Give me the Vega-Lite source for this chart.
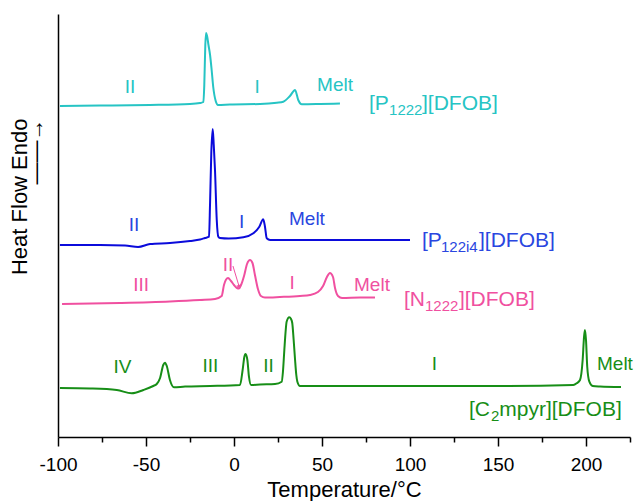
{
  "$schema": "https://vega.github.io/schema/vega-lite/v6.json",
  "width": 572,
  "height": 423,
  "autosize": {"type": "none"},
  "padding": {"left": 58, "top": 14, "right": 8, "bottom": 64},
  "background": "white",
  "config": {"view": {"stroke": null}, "font": "Liberation Sans"},
  "datasets": {
    "curves": [
      {"s": "P1222", "T": -98.9, "hf": 331}, {"s": "P1222", "T": -76.1, "hf": 331.5}, {"s": "P1222", "T": -47.7, "hf": 332}, {"s": "P1222", "T": -25.0, "hf": 333}, {"s": "P1222", "T": -19.3, "hf": 334}, {"s": "P1222", "T": -17.4, "hf": 335}, {"s": "P1222", "T": -16.9, "hf": 351}, {"s": "P1222", "T": -16.3, "hf": 392}, {"s": "P1222", "T": -15.9, "hf": 404}, {"s": "P1222", "T": -15.3, "hf": 401}, {"s": "P1222", "T": -14.5, "hf": 392}, {"s": "P1222", "T": -13.6, "hf": 382}, {"s": "P1222", "T": -12.7, "hf": 367}, {"s": "P1222", "T": -11.8, "hf": 350}, {"s": "P1222", "T": -10.4, "hf": 336}, {"s": "P1222", "T": -9.1, "hf": 332}, {"s": "P1222", "T": -2.3, "hf": 332.5}, {"s": "P1222", "T": 14.8, "hf": 333}, {"s": "P1222", "T": 24.3, "hf": 334.3}, {"s": "P1222", "T": 28.0, "hf": 335.3}, {"s": "P1222", "T": 31.8, "hf": 341}, {"s": "P1222", "T": 34.7, "hf": 347}, {"s": "P1222", "T": 36.5, "hf": 337}, {"s": "P1222", "T": 38.5, "hf": 332.7}, {"s": "P1222", "T": 48.9, "hf": 333}, {"s": "P1222", "T": 60.2, "hf": 333.5},
      {"s": "P122i4", "T": -98.9, "hf": 192}, {"s": "P122i4", "T": -76.1, "hf": 192}, {"s": "P122i4", "T": -61.9, "hf": 191.5}, {"s": "P122i4", "T": -54.5, "hf": 190}, {"s": "P122i4", "T": -47.7, "hf": 193}, {"s": "P122i4", "T": -36.4, "hf": 194}, {"s": "P122i4", "T": -25.0, "hf": 196}, {"s": "P122i4", "T": -19.3, "hf": 197.5}, {"s": "P122i4", "T": -16.5, "hf": 199}, {"s": "P122i4", "T": -14.2, "hf": 200.3}, {"s": "P122i4", "T": -13.6, "hf": 234}, {"s": "P122i4", "T": -12.9, "hf": 284}, {"s": "P122i4", "T": -12.1, "hf": 308}, {"s": "P122i4", "T": -11.5, "hf": 292}, {"s": "P122i4", "T": -10.8, "hf": 267}, {"s": "P122i4", "T": -9.8, "hf": 217}, {"s": "P122i4", "T": -8.9, "hf": 200.3}, {"s": "P122i4", "T": -8.0, "hf": 199}, {"s": "P122i4", "T": -3.0, "hf": 198.5}, {"s": "P122i4", "T": 5.3, "hf": 199.7}, {"s": "P122i4", "T": 11.0, "hf": 203.7}, {"s": "P122i4", "T": 14.4, "hf": 210.3}, {"s": "P122i4", "T": 16.6, "hf": 217.7}, {"s": "P122i4", "T": 17.6, "hf": 210.3}, {"s": "P122i4", "T": 18.6, "hf": 198.7}, {"s": "P122i4", "T": 20.5, "hf": 197}, {"s": "P122i4", "T": 31.8, "hf": 197}, {"s": "P122i4", "T": 65.9, "hf": 197}, {"s": "P122i4", "T": 100, "hf": 197},
      {"s": "N1222", "T": -97.7, "hf": 133}, {"s": "N1222", "T": -64.8, "hf": 134}, {"s": "N1222", "T": -36.4, "hf": 135.5}, {"s": "N1222", "T": -19.3, "hf": 137}, {"s": "N1222", "T": -10.8, "hf": 138}, {"s": "N1222", "T": -7.0, "hf": 141}, {"s": "N1222", "T": -5.7, "hf": 152}, {"s": "N1222", "T": -4.5, "hf": 157.5}, {"s": "N1222", "T": -3.4, "hf": 159}, {"s": "N1222", "T": -1.7, "hf": 156}, {"s": "N1222", "T": 0, "hf": 152}, {"s": "N1222", "T": 1.7, "hf": 149}, {"s": "N1222", "T": 2.8, "hf": 148.5}, {"s": "N1222", "T": 4.0, "hf": 152}, {"s": "N1222", "T": 5.7, "hf": 161}, {"s": "N1222", "T": 7.4, "hf": 173}, {"s": "N1222", "T": 9.1, "hf": 177}, {"s": "N1222", "T": 10.5, "hf": 174}, {"s": "N1222", "T": 11.9, "hf": 162}, {"s": "N1222", "T": 13.6, "hf": 148}, {"s": "N1222", "T": 15.3, "hf": 141}, {"s": "N1222", "T": 17.6, "hf": 139.5}, {"s": "N1222", "T": 26.1, "hf": 140}, {"s": "N1222", "T": 37.5, "hf": 141}, {"s": "N1222", "T": 43.2, "hf": 142}, {"s": "N1222", "T": 47.7, "hf": 145}, {"s": "N1222", "T": 50.6, "hf": 151}, {"s": "N1222", "T": 52.8, "hf": 160}, {"s": "N1222", "T": 54.5, "hf": 164}, {"s": "N1222", "T": 56.25, "hf": 160}, {"s": "N1222", "T": 57.4, "hf": 149}, {"s": "N1222", "T": 59.1, "hf": 141}, {"s": "N1222", "T": 61.4, "hf": 139}, {"s": "N1222", "T": 71.6, "hf": 139.5}, {"s": "N1222", "T": 80.1, "hf": 139.5},
      {"s": "C2mpyr", "T": -98.9, "hf": 49}, {"s": "C2mpyr", "T": -81.8, "hf": 48.5}, {"s": "C2mpyr", "T": -66.6, "hf": 47}, {"s": "C2mpyr", "T": -58.1, "hf": 43.7}, {"s": "C2mpyr", "T": -51.5, "hf": 47}, {"s": "C2mpyr", "T": -45.9, "hf": 51}, {"s": "C2mpyr", "T": -43.9, "hf": 53}, {"s": "C2mpyr", "T": -42.0, "hf": 59}, {"s": "C2mpyr", "T": -40.2, "hf": 72}, {"s": "C2mpyr", "T": -39.2, "hf": 74.3}, {"s": "C2mpyr", "T": -38.2, "hf": 71}, {"s": "C2mpyr", "T": -36.4, "hf": 57}, {"s": "C2mpyr", "T": -34.1, "hf": 49.7}, {"s": "C2mpyr", "T": -27.8, "hf": 50.5}, {"s": "C2mpyr", "T": -13.6, "hf": 51}, {"s": "C2mpyr", "T": 3.4, "hf": 52}, {"s": "C2mpyr", "T": 4.9, "hf": 67}, {"s": "C2mpyr", "T": 5.9, "hf": 80.3}, {"s": "C2mpyr", "T": 6.6, "hf": 83}, {"s": "C2mpyr", "T": 7.6, "hf": 77}, {"s": "C2mpyr", "T": 8.5, "hf": 60.3}, {"s": "C2mpyr", "T": 9.7, "hf": 52}, {"s": "C2mpyr", "T": 14.8, "hf": 52.5}, {"s": "C2mpyr", "T": 23.3, "hf": 53}, {"s": "C2mpyr", "T": 27.1, "hf": 55.3}, {"s": "C2mpyr", "T": 27.8, "hf": 65}, {"s": "C2mpyr", "T": 28.6, "hf": 87}, {"s": "C2mpyr", "T": 29.3, "hf": 105}, {"s": "C2mpyr", "T": 29.9, "hf": 115.3}, {"s": "C2mpyr", "T": 31.4, "hf": 119.7}, {"s": "C2mpyr", "T": 32.4, "hf": 118}, {"s": "C2mpyr", "T": 33.1, "hf": 114}, {"s": "C2mpyr", "T": 33.9, "hf": 97}, {"s": "C2mpyr", "T": 34.7, "hf": 77}, {"s": "C2mpyr", "T": 35.4, "hf": 62}, {"s": "C2mpyr", "T": 36.0, "hf": 55.3}, {"s": "C2mpyr", "T": 37.5, "hf": 51}, {"s": "C2mpyr", "T": 48.9, "hf": 51}, {"s": "C2mpyr", "T": 94.3, "hf": 51}, {"s": "C2mpyr", "T": 151.1, "hf": 51}, {"s": "C2mpyr", "T": 192.8, "hf": 52}, {"s": "C2mpyr", "T": 194.7, "hf": 53.7}, {"s": "C2mpyr", "T": 196.6, "hf": 57}, {"s": "C2mpyr", "T": 198.1, "hf": 77}, {"s": "C2mpyr", "T": 198.9, "hf": 100.3}, {"s": "C2mpyr", "T": 199.4, "hf": 107}, {"s": "C2mpyr", "T": 200, "hf": 97}, {"s": "C2mpyr", "T": 200.7, "hf": 70.3}, {"s": "C2mpyr", "T": 201.9, "hf": 55.3}, {"s": "C2mpyr", "T": 203.8, "hf": 51}, {"s": "C2mpyr", "T": 208, "hf": 50.5}, {"s": "C2mpyr", "T": 219.9, "hf": 50}
    ],
    "arrow": [
      {"s": "N1222", "T": -0.6, "hf": 171, "end": 0},
      {"s": "N1222", "T": 3.0, "hf": 150, "end": 1}
    ],
    "labels": [
      {"s": "P1222", "text": "II", "kind": "phase", "T": -59.1, "hf": 344},
      {"s": "P1222", "text": "I", "kind": "phase", "T": 13.1, "hf": 344},
      {"s": "P1222", "text": "Melt", "kind": "phaseL", "T": 47.2, "hf": 346.3},
      {"s": "P1222", "text": "[P", "kind": "name", "T": 76.7, "hf": 327},
      {"s": "P1222", "text": "1222", "kind": "sub", "T": 88.1, "hf": 322},
      {"s": "P1222", "text": "][DFOB]", "kind": "name", "T": 106.8, "hf": 327},
      {"s": "P122i4 text", "text": "II", "kind": "phase", "T": -56.8, "hf": 206},
      {"s": "P122i4 text", "text": "I", "kind": "phase", "T": 4.4, "hf": 208.7},
      {"s": "P122i4 text", "text": "Melt", "kind": "phaseL", "T": 31.25, "hf": 212},
      {"s": "P122i4 text", "text": "[P", "kind": "name", "T": 106.8, "hf": 190},
      {"s": "P122i4 text", "text": "122i4", "kind": "sub", "T": 117.6, "hf": 185},
      {"s": "P122i4 text", "text": "][DFOB]", "kind": "name", "T": 139.2, "hf": 190},
      {"s": "N1222", "text": "III", "kind": "phase", "T": -52.8, "hf": 146},
      {"s": "N1222", "text": "II", "kind": "phase", "T": -3.4, "hf": 166},
      {"s": "N1222", "text": "I", "kind": "phase", "T": 33.0, "hf": 148},
      {"s": "N1222", "text": "Melt", "kind": "phaseL", "T": 68.2, "hf": 146},
      {"s": "N1222", "text": "[N", "kind": "name", "T": 96.6, "hf": 131},
      {"s": "N1222", "text": "1222", "kind": "sub", "T": 108.5, "hf": 126},
      {"s": "N1222", "text": "][DFOB]", "kind": "name", "T": 127.8, "hf": 131},
      {"s": "C2mpyr", "text": "IV", "kind": "phase", "T": -63.4, "hf": 64},
      {"s": "C2mpyr", "text": "III", "kind": "phase", "T": -13.4, "hf": 65},
      {"s": "C2mpyr", "text": "II", "kind": "phase", "T": 19.6, "hf": 65},
      {"s": "C2mpyr", "text": "I", "kind": "phase", "T": 113.8, "hf": 67},
      {"s": "C2mpyr", "text": "Melt", "kind": "phaseL", "T": 206.25, "hf": 67},
      {"s": "C2mpyr", "text": "[C", "kind": "name", "T": 133.5, "hf": 21},
      {"s": "C2mpyr", "text": "2", "kind": "sub", "T": 146.0, "hf": 16},
      {"s": "C2mpyr", "text": "mpyr][DFOB]", "kind": "name", "T": 150.7, "hf": 21}
    ]
  },
  "encoding": {
    "x": {
      "field": "T", "type": "quantitative",
      "scale": {"domain": [-100, 225], "nice": false, "zero": false},
      "axis": {
        "title": "Temperature/°C",
        "values": [-100, -75, -50, -25, 0, 25, 50, 75, 100, 125, 150, 175, 200, 225],
        "labelExpr": "datum.value % 50 === 0 ? '' + datum.value : ''",
        "grid": false,
        "domainColor": "black", "domainWidth": 1.5,
        "tickColor": "black", "tickWidth": 1.5,
        "tickSize": {"condition": {"test": "datum.value % 50 === 0", "value": 9}, "value": 5},
        "labelFont": "Liberation Sans", "labelFontSize": 19, "labelColor": "black", "labelPadding": 9,
        "labelFlush": false, "labelOverlap": false,
        "titleFont": "Liberation Sans", "titleFontSize": 22, "titleFontWeight": "normal", "titleColor": "black", "titlePadding": 5
      }
    },
    "y": {
      "field": "hf", "type": "quantitative",
      "scale": {"domain": [0, 423], "nice": false, "zero": false},
      "axis": {
        "title": ["Heat Flow Endo", "――→"],
        "ticks": false, "labels": false, "grid": false,
        "domainColor": "black", "domainWidth": 1.5,
        "titleFont": "Liberation Sans", "titleFontSize": 22, "titleFontWeight": "normal", "titleColor": "black",
        "titleAngle": -90, "titleAlign": "right", "titleBaseline": "middle", "titleLineHeight": 16,
        "titleX": -39, "titleY": 104
      }
    },
    "color": {
      "field": "s", "type": "nominal",
      "scale": {"domain": ["P1222", "P122i4", "P122i4 text", "N1222", "C2mpyr"], "range": ["#26C4C4", "#0B0BDB", "#2A46E0", "#F050A0", "#178E17"]},
      "legend": null
    }
  },
  "layer": [
    {"data": {"name": "curves"}, "mark": {"type": "line", "strokeWidth": 2, "interpolate": "monotone"}},
    {"data": {"name": "arrow"}, "mark": {"type": "line", "strokeWidth": 1}},
    {"data": {"name": "arrow"}, "transform": [{"filter": "datum.end === 1"}], "mark": {"type": "point", "shape": "triangle-down", "filled": true, "opacity": 1, "size": 25, "angle": 343}},
    {"data": {"name": "labels"}, "transform": [{"filter": "datum.kind === 'phase'"}], "mark": {"type": "text", "align": "center", "baseline": "alphabetic", "fontSize": 19, "font": "Liberation Sans"}, "encoding": {"text": {"field": "text"}}},
    {"data": {"name": "labels"}, "transform": [{"filter": "datum.kind === 'phaseL'"}], "mark": {"type": "text", "align": "left", "baseline": "alphabetic", "fontSize": 19, "font": "Liberation Sans"}, "encoding": {"text": {"field": "text"}}},
    {"data": {"name": "labels"}, "transform": [{"filter": "datum.kind === 'name'"}], "mark": {"type": "text", "align": "left", "baseline": "alphabetic", "fontSize": 21, "font": "Liberation Sans"}, "encoding": {"text": {"field": "text"}}},
    {"data": {"name": "labels"}, "transform": [{"filter": "datum.kind === 'sub'"}], "mark": {"type": "text", "align": "left", "baseline": "alphabetic", "fontSize": 15, "font": "Liberation Sans"}, "encoding": {"text": {"field": "text"}}}
  ]
}
